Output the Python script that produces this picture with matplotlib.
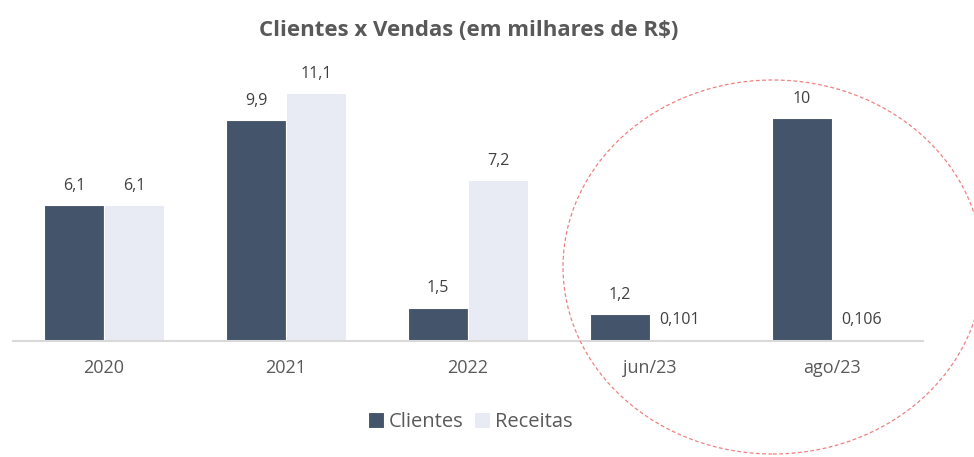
import matplotlib.pyplot as plt
import numpy as np
from matplotlib.patches import Ellipse

categories = ["2020", "2021", "2022", "jun/23", "ago/23"]
clientes = [6.1, 9.9, 1.5, 1.2, 10]
receitas = [6.1, 11.1, 7.2, 0.101, 0.106]

DARK = "#44546a"
LIGHT = "#e8eaf4"
TEXT = "#595959"

plt.rcParams["font.family"] = ["Open Sans", "DejaVu Sans"]


def fmt(v):
    return f"{v:g}".replace(".", ",")


fig = plt.figure(figsize=(9.74, 4.57), dpi=100)
ax = fig.add_axes([13 / 974, 1 - 341 / 457, 910 / 974, 268 / 457])

x = np.arange(len(categories))
w = 0.33
b1 = ax.bar(x - w / 2, clientes, w, color=DARK, edgecolor="white", linewidth=0.8,
            label="Clientes")
b2 = ax.bar(x + w / 2, receitas, w, color=LIGHT, edgecolor="white", linewidth=0.8,
            label="Receitas")

for bars, vals in ((b1, clientes), (b2, receitas)):
    for bar, v in zip(bars, vals):
        ax.annotate(fmt(v), (bar.get_x() + bar.get_width() / 2, bar.get_height()),
                    xytext=(0, 8), textcoords="offset points", ha="center",
                    va="bottom", fontsize=11.5, color="#404040")

ax.set_xlim(-0.5, len(categories) - 0.5)
ax.set_ylim(0, 12)
ax.set_xticks(x)
ax.set_xticklabels(categories, fontsize=13, color=TEXT)
ax.tick_params(axis="x", length=0, pad=13)
ax.set_yticks([])
for side in ("top", "right", "left"):
    ax.spines[side].set_visible(False)
ax.spines["bottom"].set_color("#d9d9d9")
ax.spines["bottom"].set_linewidth(1.5)

fig.suptitle("Clientes x Vendas (em milhares de R$)", x=469 / 974, y=1 - 30 / 457,
             va="center", fontsize=16, fontweight="bold", color=TEXT)

fig.legend(loc="center", bbox_to_anchor=(470 / 974, 1 - 422 / 457), ncol=2,
           frameon=False, fontsize=14.5, labelcolor=TEXT, handlelength=0.8,
           handleheight=0.8, handletextpad=0.25, columnspacing=0.5)

fig.add_artist(Ellipse((773 / 974, 1 - 267 / 457), width=420 / 974, height=374 / 457,
                       transform=fig.transFigure, fill=False, edgecolor="#f08080",
                       linestyle=(0, (3, 2)), linewidth=0.9))

fig.savefig("out.png", dpi=100)
